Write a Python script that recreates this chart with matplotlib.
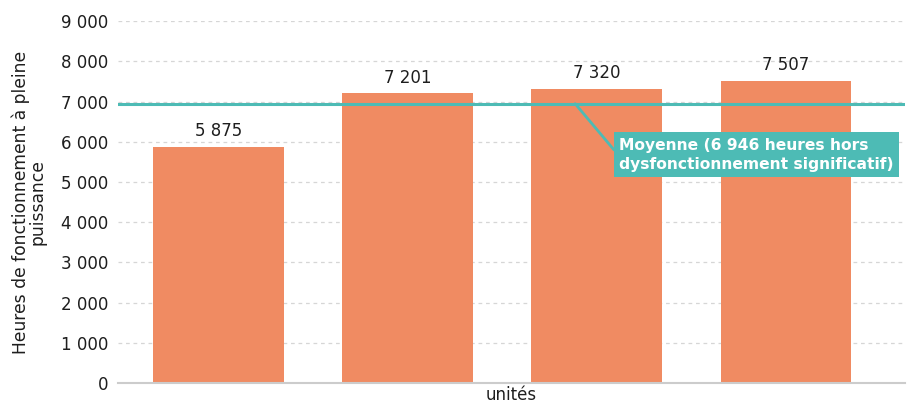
import matplotlib
matplotlib.use("Agg")
import matplotlib.pyplot as plt
from matplotlib.ticker import FuncFormatter

plt.rcParams['font.family'] = ['DejaVu Sans']

categories = ["1", "2", "3", "4"]
values = [5875, 7201, 7320, 7507]
mean_value = 6946
mean_label = "Moyenne (6 946 heures hors\ndysfonctionnement significatif)"
y_ticks = [0, 1000, 2000, 3000, 4000, 5000, 6000, 7000, 8000, 9000]

bar_color = "#F08B62"
teal = "#4DBBB5"
text_color = "#1E1E1E"

def fmt(v):
    return f"{int(v):,}".replace(",", " ")

fig = plt.figure(figsize=(9.07, 4.05), dpi=100)
ax = fig.add_axes([0.130, 0.054, 0.868, 0.894])

x = list(range(len(categories)))
ax.bar(x, values, width=0.69, color=bar_color, zorder=2)
for xi, v in zip(x, values):
    ax.text(xi, v + 170, fmt(v), ha="center", va="bottom", fontsize=12, color=text_color, zorder=4)

ax.axhline(mean_value, color=teal, linewidth=2.2, zorder=3)

ax.annotate(mean_label, xy=(1.886, mean_value), xytext=(2.12, 5680),
            ha="left", va="center", fontsize=11.2, fontweight="bold", color="white",
            linespacing=1.35,
            bbox=dict(boxstyle="square,pad=0.35", fc=teal, ec="none"),
            arrowprops=dict(arrowstyle="-", color=teal, lw=2, relpos=(0, 0.45),
                            shrinkA=0, shrinkB=0),
            zorder=5, annotation_clip=False)

ax.set_xlim(-0.53, 3.63)
ax.set_ylim(0, 9000)
ax.set_yticks(y_ticks)
ax.yaxis.set_major_formatter(FuncFormatter(lambda v, p: fmt(v)))
ax.set_xticks([])
ax.tick_params(axis="y", length=0, pad=7, labelsize=12, labelcolor=text_color)
ax.yaxis.grid(True, linestyle=(0, (3, 3)), color="#D6D6D6", linewidth=0.9, zorder=0)
ax.set_axisbelow(True)
for s in ["top", "right", "left"]:
    ax.spines[s].set_visible(False)
ax.spines["bottom"].set_color("#CCCCCC")
ax.spines["bottom"].set_linewidth(1.5)

ax.set_xlabel("unités", fontsize=12, color=text_color, labelpad=2)
ax.set_ylabel("Heures de fonctionnement à pleine\npuissance", fontsize=12.3, color=text_color,
              linespacing=0.95, labelpad=10)

fig.savefig("out.png", dpi=100)
